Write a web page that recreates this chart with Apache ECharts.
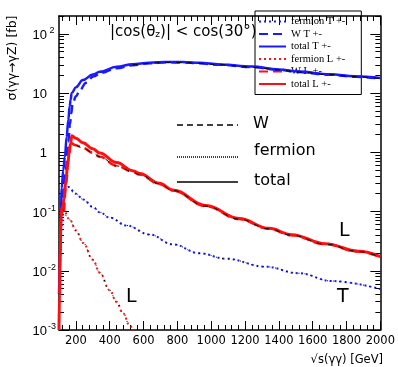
<!DOCTYPE html>
<html>
<head>
<meta charset="utf-8">
<script src="https://cdn.jsdelivr.net/npm/echarts@6/dist/echarts.min.js"></script>
<style>html,body{margin:0;padding:0;background:#fff}#c{width:398px;height:367px}</style>
</head>
<body>
<div id="c"></div>
<script>
// ---- data: [sqrt(s) GeV, sigma fb] ----
const fermionT = [[105,0.01],[115,0.05],[125,0.15],[140,0.24],[155,0.26],[200,0.2],[243,0.16],[300,0.12],[341,0.097],[400,0.079],[500,0.058],[635,0.041],[772,0.028],[929,0.0198],[1086,0.016],[1321,0.0117],[1517,0.0091],[1713,0.0067],[2000,0.0049]];
const wT = [[120,0.1],[140,0.5],[155,1.5],[165,3],[172,4.5],[180,6.5],[200,8.8],[224,11.3],[260,15],[302,19],[350,22],[439,26.3],[535,29.6],[635,31.8],[735,33.0],[830,32.9],[929,31.8],[1050,30.0],[1241,27.4],[1400,24.6],[1517,22.6],[1700,20.4],[1850,18.9],[2000,17.5]];
const totalT = [[100,0.004],[104,0.01],[110,0.05],[116,0.25],[125,0.5],[135,0.84],[145,1.8],[155,3.5],[163,6],[169,7.7],[175,10],[200,12.5],[241,16.6],[300,20.5],[341,22.8],[441,27.8],[535,30.6],[635,32.4],[735,33.6],[830,33.4],[929,32.4],[1050,30.5],[1241,28],[1400,25],[1517,23.1],[1700,20.8],[1850,19.3],[2000,17.9]];
const fermionL = [[105,0.01],[115,0.06],[125,0.107],[165,0.072],[200,0.048],[243,0.0295],[300,0.0153],[341,0.0093],[400,0.0047],[439,0.003],[480,0.0019],[517,0.0012],[560,0.00073],[600,0.00046]];
const wL = [[130,0.1],[145,0.35],[155,0.8],[162,1.3],[167,1.43],[200,1.32],[241,1.19],[300,0.98],[341,0.84],[441,0.59],[535,0.47],[576,0.42],[694,0.293],[772,0.227],[969,0.123],[1165,0.0745],[1341,0.051],[1476,0.0398],[1675,0.0281],[1870,0.0211],[2000,0.0171]];
const totalL = [[100,0.001],[103,0.004],[107,0.02],[112,0.08],[118,0.12],[123,0.1],[128,0.16],[140,0.3],[150,0.57],[160,0.95],[168,1.4],[176,1.9],[200,1.72],[241,1.45],[300,1.15],[341,0.97],[441,0.67],[535,0.49],[576,0.44],[694,0.30],[772,0.232],[969,0.126],[1165,0.076],[1341,0.052],[1476,0.0407],[1675,0.0285],[1870,0.0214],[2000,0.0174]];

// ---- tick values ----
const xTickLabels = [200,400,600,800,1000,1200,1400,1600,1800,2000];
const yTickLabels = [0.001,0.01,0.1,1,10,100];
const xMinorTicks = [];
for (let v = 120; v < 2000; v += 40) if (v % 200 !== 0) xMinorTicks.push(v);
const yMinorTicks = [];
for (let e = -3; e <= 2; e++) for (let m = 2; m <= 9; m++) { const v = m * Math.pow(10, e); if (v <= 200) yMinorTicks.push(+v.toPrecision(3)); }

const BLUE = '#1a1aff', RED = '#ff1010';
const FONT = 'DejaVu Sans';

function xAx(pos, ticks, len, showLine, labels) {
  return {
    type: 'value', position: pos, min: 100, max: 2000,
    axisLine: { show: showLine, onZero: false, lineStyle: { color: '#000', width: 1.5 } },
    axisTick: { show: true, inside: true, length: len, customValues: ticks, lineStyle: { color: '#000', width: 1 } },
    axisLabel: labels ? { show: true, customValues: xTickLabels, color: '#000', fontFamily: FONT, fontSize: 11.5, margin: 5,
      formatter: function (v) { return String(Math.round(v)); } } : { show: false },
    splitLine: { show: false }
  };
}
function yAx(pos, ticks, len, showLine, labels) {
  return {
    type: 'log', logBase: 10, position: pos, min: 0.001, max: 200,
    axisLine: { show: showLine, onZero: false, lineStyle: { color: '#000', width: 1.5 } },
    axisTick: { show: true, inside: true, length: len, customValues: ticks, lineStyle: { color: '#000', width: 1 } },
    axisLabel: labels ? {
      show: true, customValues: yTickLabels, margin: 2, color: '#000',
      formatter: function (v) {
        const e = Math.round(Math.log10(v));
        if (e === 0) return '{b|1}{s| }';
        if (e === 1) return '{b|10}{s| }';
        return '{b|10}{s|' + e + '}';
      },
      rich: {
        b: { fontFamily: 'Liberation Sans', fontSize: 13, color: '#000', lineHeight: 16, verticalAlign: 'bottom' },
        s: { fontFamily: 'Liberation Sans', fontSize: 9, color: '#000', width: 10, align: 'left', lineHeight: 16, verticalAlign: 'top', padding: [0, 0, 6, 0] }
      }
    } : { show: false },
    splitLine: { show: false }
  };
}

function ser(name, data, color, dash, width, z) {
  return {
    name: name, type: 'line', data: data, symbol: 'none', showSymbol: false,
    smooth: 0.4, smoothMonotone: 'x', clip: true, z: z || 2,
    xAxisIndex: 0, yAxisIndex: 0,
    lineStyle: { color: color, width: width, type: dash || 'solid' },
    itemStyle: { color: color }
  };
}

const chart = echarts.init(document.getElementById('c'), null, { renderer: 'canvas' });
chart.setOption({
  animation: false,
  backgroundColor: '#fff',
  grid: { left: 59, right: 16, top: 16, bottom: 37, containLabel: false },
  xAxis: [
    xAx('bottom', xTickLabels, 9, true, true),
    xAx('bottom', xMinorTicks, 5, false, false),
    xAx('top', xTickLabels, 9, true, false),
    xAx('top', xMinorTicks, 5, false, false)
  ],
  yAxis: [
    yAx('left', yTickLabels, 10, true, true),
    yAx('left', yMinorTicks, 5, false, false),
    yAx('right', yTickLabels, 10, true, false),
    yAx('right', yMinorTicks, 5, false, false)
  ],
  legend: {
    data: ['fermion T +-', 'W T +-', 'total T +-', 'fermion L +-', 'W L +-', 'total L +-'],
    orient: 'vertical', left: 255, top: 11,
    itemWidth: 27, itemHeight: 9, itemGap: 1.5, itemTextGap: 10,
    padding: [5, 16, 5, 3],
    borderColor: '#000', borderWidth: 1,
    selectedMode: false,
    itemStyle: { opacity: 0 },
    textStyle: { fontFamily: 'Liberation Serif', fontSize: 10.5, color: '#000', lineHeight: 11 }
  },
  series: [
    ser('fermion T +-', fermionT, BLUE, [2, 3], 2, 2),
    ser('W T +-', wT, BLUE, [9, 5], 2.5, 3),
    ser('total T +-', totalT, BLUE, 'solid', 2.5, 4),
    ser('fermion L +-', fermionL, RED, [2, 3], 2, 5),
    ser('W L +-', wL, RED, [9, 5], 2.5, 6),
    ser('total L +-', totalL, RED, 'solid', 3, 7),
    ser('kW_T', wT.filter(p => p[0] >= 500), '#000', [5, 6], 1, 8),
    ser('kW_L', wL.filter(p => p[0] >= 200), '#000', [5, 6], 1, 8),
    ser('kF_T', fermionT.filter(p => p[0] >= 150), '#000', [1, 5], 1, 8),
    ser('kF_L', fermionL.filter(p => p[0] >= 120), '#000', [1, 5], 1, 8)
  ],
  graphic: [
    { type: 'text', x: 110, y: 32, style: { text: '|cos(θ{s|z})| < cos(30°)', fill: '#000', font: '15px "DejaVu Sans"', textVerticalAlign: 'middle',
        rich: { s: { fontSize: 9, fontFamily: 'DejaVu Sans', verticalAlign: 'bottom', padding: [6, 0, 0, 0] } } } },
    { type: 'line', shape: { x1: 177, y1: 125, x2: 238, y2: 125 }, style: { stroke: '#000', lineWidth: 1.3, lineDash: [6, 4] } },
    { type: 'line', shape: { x1: 177, y1: 157, x2: 238, y2: 157 }, style: { stroke: '#000', lineWidth: 1.5, lineDash: [1, 1] } },
    { type: 'line', shape: { x1: 177, y1: 182, x2: 238, y2: 182 }, style: { stroke: '#000', lineWidth: 1.3 } },
    { type: 'text', x: 253, y: 124, style: { text: 'W', fill: '#000', font: '16px "DejaVu Sans"', textVerticalAlign: 'middle' } },
    { type: 'text', x: 254, y: 151, style: { text: 'fermion', fill: '#000', font: '16px "DejaVu Sans"', textVerticalAlign: 'middle' } },
    { type: 'text', x: 254, y: 181, style: { text: 'total', fill: '#000', font: '16px "DejaVu Sans"', textVerticalAlign: 'middle' } },
    { type: 'text', x: 339, y: 231, style: { text: 'L', fill: '#000', font: '19px "DejaVu Sans"', textVerticalAlign: 'middle' } },
    { type: 'text', x: 337, y: 297, style: { text: 'T', fill: '#000', font: '19px "DejaVu Sans"', textVerticalAlign: 'middle' } },
    { type: 'text', x: 126, y: 297, style: { text: 'L', fill: '#000', font: '19px "DejaVu Sans"', textVerticalAlign: 'middle' } },
    { type: 'text', x: 383, y: 360, style: { text: '√s(γγ) [GeV]', fill: '#000', font: '11.5px "DejaVu Sans"', textAlign: 'right', textVerticalAlign: 'middle' } },
    { type: 'text', x: 13, y: 58, rotation: Math.PI / 2, style: { text: 'σ(γγ→γZ) [fb]', fill: '#000', font: '12.5px "DejaVu Sans"', textAlign: 'center', textVerticalAlign: 'middle' } }
  ]
});
</script>
</body>
</html>
